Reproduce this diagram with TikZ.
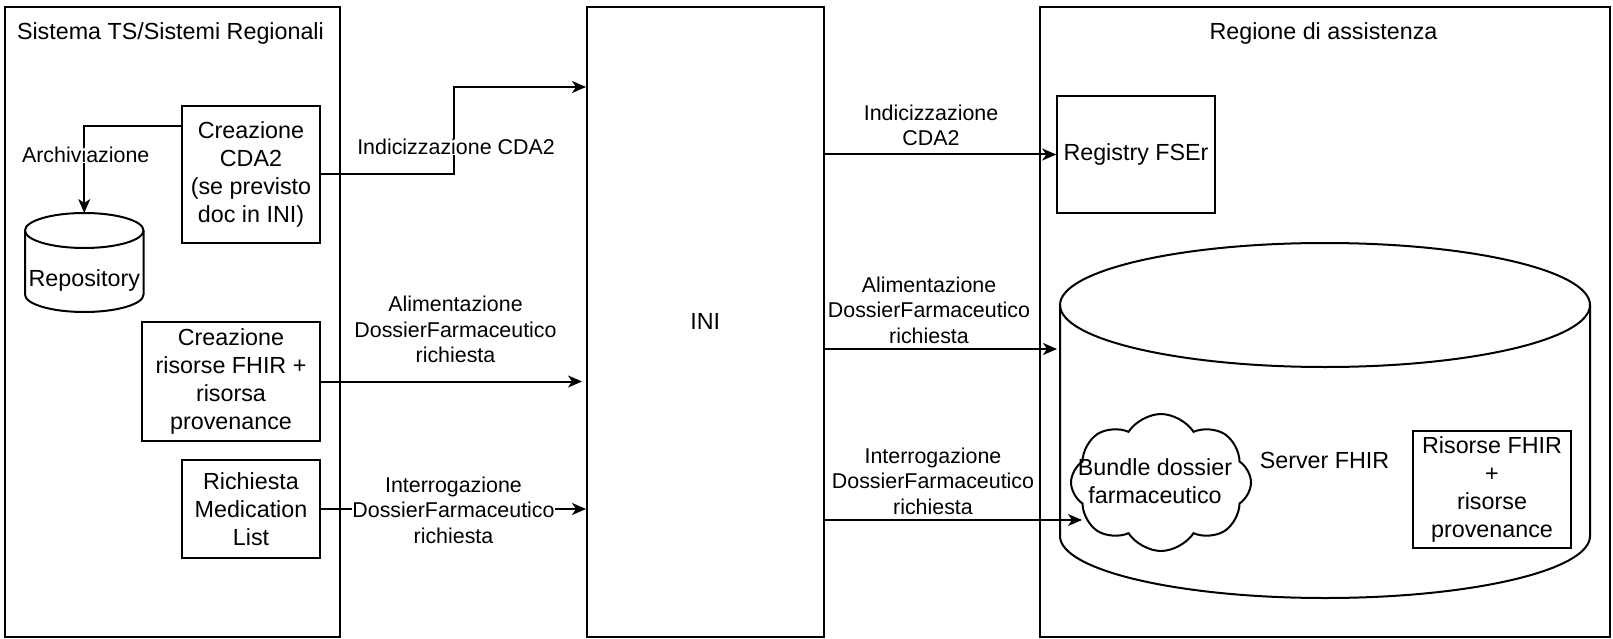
\documentclass[tikz,border=0pt]{standalone}
\usepackage{fontspec}
\setmainfont{Liberation Sans}
\usetikzlibrary{arrows.meta,shapes.symbols}
\newcommand{\vtxfont}{\fontsize{23.3}{27.8}\selectfont}
\newcommand{\edgfont}{\fontsize{21.4}{25.5}\selectfont}
\begin{document}
\begin{tikzpicture}[x=1pt,y=-1pt,line width=2pt,
  box/.style={draw, line width=2pt, align=center, inner sep=0pt, font=\vtxfont},
  txt/.style={inner sep=0pt, align=center, font=\vtxfont},
  lbl/.style={align=center, font=\edgfont, inner sep=0.5pt},
  arr/.style={-{Stealth[length=14pt,width=12pt,inset=4pt]}}]
\useasboundingbox (0,0) rectangle (1613,639);
% panels
\node[box, minimum width=335, minimum height=630.3] (left) at (172.05,321.85) {};
\node[txt, anchor=west] (ltitle) at (16,33) {Sistema TS/Sistemi Regionali};
\node[box, minimum width=236.6, minimum height=630.3] (ini) at (705.3,321.85) {INI};
\node[box, minimum width=570, minimum height=630.3] (right) at (1325,321.85) {};
\node[txt] (rtitle) at (1323.5,33) {Regione di assistenza};
% left boxes
\node[box, minimum width=138, minimum height=137] (cda) at (251,174.5) {Creazione\\CDA2\\(se previsto\\doc in INI)};
\node[box, minimum width=178, minimum height=119] (fhir) at (231,381.5) {Creazione\\risorse FHIR +\\risorsa\\provenance};
\node[box, minimum width=138, minimum height=98] (rml) at (251,509) {Richiesta\\Medication\\List};
% repository cylinder
\draw (25,230.5) -- (25,294.5) arc[start angle=180,end angle=0,x radius=59.25,y radius=17.5] -- (143.5,230.5);
\draw (84.25,230.5) ellipse [x radius=59.25, y radius=17.5];
\node[txt] (repo) at (84.25,280) {Repository};
\coordinate (repotop) at (84.25,213);
% right side
\node[box, minimum width=157.6, minimum height=117] (reg) at (1136,154.5) {Registry FSEr};
\draw (1060,305) -- (1060,536) arc[start angle=180,end angle=0,x radius=265,y radius=62] -- (1590,305);
\draw (1325,305) ellipse [x radius=265, y radius=62];
\node[txt] (srv) at (1324.5,460) {Server FHIR};
\node[cloud, draw, cloud puffs=8, cloud puff arc=115, aspect=1.3, minimum width=180, minimum height=137, inner sep=0pt] (bundle) at (1161,482.5) {};
\node[txt] (bundletxt) at (1155,481) {Bundle dossier\\farmaceutico};
\node[box, minimum width=158, minimum height=117] (ris) at (1492,489.5) {Risorse FHIR\\+\\risorse\\provenance};
% connectors left
\coordinate (k0) at (84.25,126);
\draw[arr] (cda.west |- k0) -| (repotop);
\node[lbl, fill=white] (l0) at (85.7,155) {Archiviazione};
\coordinate (k1) at (454,87);
\draw[arr] (cda.east) -| (k1) -- (k1 -| ini.west);
\node[lbl, fill=white] (l1) at (456,147) {Indicizzazione CDA2};
\draw[arr, shorten >=4pt] (fhir.east) -- (fhir.east -| ini.west);
\node[lbl] (l2) at (455.5,329.5) {Alimentazione\\DossierFarmaceutico\\richiesta};
\draw[arr] (rml.east) -- (rml.east -| ini.west);
\node[lbl, fill=white] (l3) at (453.5,510) {Interrogazione\\DossierFarmaceutico\\richiesta};
% connectors right
\draw[arr] (ini.east |- reg.west) -- (reg.west);
\node[lbl] (r1) at (931,125.5) {Indicizzazione\\CDA2};
\coordinate (cylL) at (1060,349);
\draw[arr, shorten >=3pt] (ini.east |- cylL) -- (cylL);
\node[lbl] (r2) at (929,310) {Alimentazione\\DossierFarmaceutico\\richiesta};
\coordinate (k3) at (1082,520);
\draw[arr] (ini.east |- k3) -- (k3);
\node[lbl] (r3) at (933,481) {Interrogazione\\DossierFarmaceutico\\richiesta};
\end{tikzpicture}
\end{document}
